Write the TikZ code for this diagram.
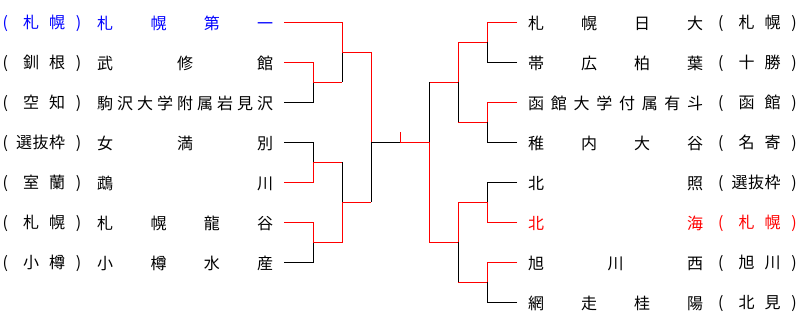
\documentclass[tikz,border=0pt]{standalone}
\usepackage{fontspec}
\setmainfont{Noto Sans CJK JP}
\definecolor{winred}{RGB}{255,0,0}
\definecolor{ownblue}{RGB}{0,0,255}

% spread the characters of #2 evenly over a box of width #1
\makeatletter
\newcommand\spreadbox[2]{\makebox[#1][s]{\spread@go#2\relax}}
\def\spread@go#1#2{#1\ifx\relax#2\else\hfill\expandafter\spread@go\expandafter#2\fi}
\makeatother
% region in brackets, the characters set flush right inside
\newcommand\seedbox[2]{\makebox[78.5pt][l]{(\makebox[57pt][r]{\spreadbox{#1}{#2}}\hfill)}}

\begin{document}
\begin{tikzpicture}[x=1pt,y=-1pt,
    seed/.style={anchor=west,inner sep=0pt,font=\fontsize{16}{16}\selectfont},
    team/.style={anchor=west,inner sep=0pt,font=\fontsize{16}{16}\selectfont},
    won/.style={draw=winred,line width=1pt},
    lost/.style={draw=black,line width=1pt}
]
\useasboundingbox (0,0) rectangle (804,324);

% left block
\node[seed,text=ownblue] (sL1) at (2.5,23.5)  {\seedbox{42pt}{札幌}};
\node[seed]              (sL2) at (2.5,63.5)  {\seedbox{42pt}{釧根}};
\node[seed]              (sL3) at (2.5,103.5) {\seedbox{42pt}{空知}};
\node[seed]              (sL4) at (2.5,143.5) {\seedbox{49pt}{選抜枠}};
\node[seed]              (sL5) at (2.5,183.5) {\seedbox{42pt}{室蘭}};
\node[seed]              (sL6) at (2.5,223.5) {\seedbox{42pt}{札幌}};
\node[seed]              (sL7) at (2.5,263.5) {\seedbox{42pt}{小樽}};

\node[team,text=ownblue] (nL1) at (97,23.5)  {\spreadbox{176pt}{札幌第一}};
\node[team]              (nL2) at (97,63.5)  {\spreadbox{176pt}{武修館}};
\node[team]              (nL3) at (97,103.5) {\spreadbox{176pt}{駒沢大学附属岩見沢}};
\node[team]              (nL4) at (97,143.5) {\spreadbox{176pt}{女満別}};
\node[team]              (nL5) at (97,183.5) {\spreadbox{176pt}{鵡川}};
\node[team]              (nL6) at (97,223.5) {\spreadbox{176pt}{札幌龍谷}};
\node[team]              (nL7) at (97,263.5) {\spreadbox{176pt}{小樽水産}};

% right block
\node[team]              (nR1) at (528,23.5)  {\spreadbox{175pt}{札幌日大}};
\node[team]              (nR2) at (528,63.5)  {\spreadbox{175pt}{帯広柏葉}};
\node[team]              (nR3) at (528,103.5) {\spreadbox{175pt}{函館大学付属有斗}};
\node[team]              (nR4) at (528,143.5) {\spreadbox{175pt}{稚内大谷}};
\node[team]              (nR5) at (528,183.5) {\spreadbox{175pt}{北照}};
\node[team,text=winred]  (nR6) at (528,223.5) {\spreadbox{175pt}{北海}};
\node[team]              (nR7) at (528,263.5) {\spreadbox{175pt}{旭川西}};
\node[team]              (nR8) at (528,303.5) {\spreadbox{175pt}{網走桂陽}};

\node[seed]              (sR1) at (718,23.5)  {\seedbox{42pt}{札幌}};
\node[seed]              (sR2) at (718,63.5)  {\seedbox{42pt}{十勝}};
\node[seed]              (sR3) at (718,103.5) {\seedbox{42pt}{函館}};
\node[seed]              (sR4) at (718,143.5) {\seedbox{42pt}{名寄}};
\node[seed]              (sR5) at (718,183.5) {\seedbox{49pt}{選抜枠}};
\node[seed,text=winred]  (sR6) at (718,223.5) {\seedbox{42pt}{札幌}};
\node[seed]              (sR7) at (718,263.5) {\seedbox{42pt}{旭川}};
\node[seed]              (sR8) at (718,303.5) {\seedbox{42pt}{北見}};

% line ends and junctions
\coordinate (pL1) at (284,22);
\coordinate (pL2) at (284,62);
\coordinate (pL3) at (284,102);
\coordinate (pL4) at (284,142);
\coordinate (pL5) at (284,182);
\coordinate (pL6) at (284,222);
\coordinate (pL7) at (284,262);
\coordinate (a1) at (313,82);
\coordinate (a2) at (313,162);
\coordinate (a3) at (313,242);
\coordinate (b1) at (342,52);
\coordinate (b2) at (342,202);
\coordinate (c1) at (371,142);
\coordinate (fin)   at (400,142);
\coordinate (champ) at (400,132);
\coordinate (g1) at (429,142);
\coordinate (e1) at (458,82);
\coordinate (e2) at (458,242);
\coordinate (d1) at (487,42);
\coordinate (d2) at (487,122);
\coordinate (d3) at (487,202);
\coordinate (d4) at (487,282);
\coordinate (pR1) at (517,22);
\coordinate (pR2) at (517,62);
\coordinate (pR3) at (517,102);
\coordinate (pR4) at (517,142);
\coordinate (pR5) at (517,182);
\coordinate (pR6) at (517,222);
\coordinate (pR7) at (517,262);
\coordinate (pR8) at (517,302);

% left, first round
\draw[won]  (pL2) -| (a1);
\draw[lost] (pL3) -| (a1);
\draw[lost] (pL4) -| (a2);
\draw[won]  (pL5) -| (a2);
\draw[won]  (pL6) -| (a3);
\draw[lost] (pL7) -| (a3);
% left, second round
\draw[won]  (pL1) -| (b1);
\draw[won]  (a1) -- (a1 -| b1);
\draw[lost] (a1 -| b1) -- (b1);
\draw[won]  (a2) -- (a2 -| b2);
\draw[lost] (a2 -| b2) -- (b2);
\draw[won]  (a3) -| (b2);
% left, semifinal
\draw[won]  (b1) -| (c1);
\draw[won]  (b2) -- (b2 -| c1);
\draw[lost] (b2 -| c1) -- (c1);

% right, first round
\draw[won]  (pR1) -| (d1);
\draw[lost] (pR2) -| (d1);
\draw[won]  (pR3) -| (d2);
\draw[lost] (pR4) -| (d2);
\draw[lost] (pR5) -| (d3);
\draw[won]  (pR6) -| (d3);
\draw[won]  (pR7) -| (d4);
\draw[lost] (pR8) -| (d4);
% right, second round
\draw[won]  (d1) -| (e1);
\draw[won]  (d2) -- (d2 -| e1);
\draw[lost] (d2 -| e1) -- (e1);
\draw[won]  (d3) -| (e2);
\draw[won]  (d4) -- (d4 -| e2);
\draw[lost] (d4 -| e2) -- (e2);
% right, semifinal
\draw[won]  (e1) -- (e1 -| g1);
\draw[lost] (e1 -| g1) -- (g1);
\draw[won]  (e2) -| (g1);

% final
\draw[lost] (c1) -- (fin);
\draw[won]  (g1) -- (fin) -- (champ);
\end{tikzpicture}
\end{document}
